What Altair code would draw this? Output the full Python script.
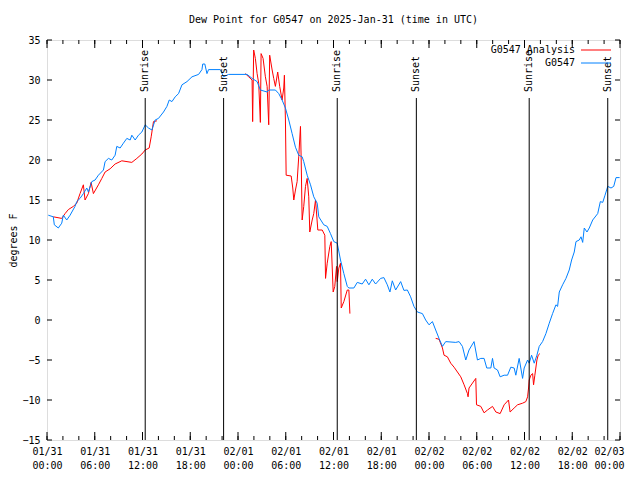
import altair as alt
import pandas as pd

# ---------------- data (hours after 2025-01-31 00:00 UTC, dew point in F) ----------------
title_text = "Dew Point for G0547 on 2025-Jan-31 (time in UTC)"
series_names = ["G0547 Analysis", "G0547"]
series_colors = ["#ff0000", "#0080ff"]

blue_hours = [0.16, 0.79, 0.92, 1.42, 1.85, 2.05, 2.48, 2.90, 3.52, 3.74, 4.15, 4.57, 5.00, 5.20, 5.63,
              6.04, 6.46, 7.09, 7.30, 7.72, 8.14, 8.56, 8.77, 9.19, 9.60, 10.03, 10.45, 10.66, 11.08,
              11.49, 11.92, 12.34, 12.75, 13.18, 13.59, 14.01, 14.64, 15.07, 15.36, 15.70, 16.11,
              16.53, 16.96, 17.59, 18.22, 19.05, 19.47, 19.57, 19.83, 20.10, 20.30, 21.78, 22.19,
              22.82, 25.14, 25.77, 26.40, 26.81, 27.66, 27.86, 28.70, 29.12, 29.54, 29.96, 30.38,
              30.80, 31.22, 31.63, 32.06, 32.26, 32.69, 33.11, 33.52, 33.95, 34.15, 34.78, 35.21,
              35.62, 36.04, 36.47, 36.88, 37.30, 37.73, 37.93, 38.56, 38.99, 39.61, 40.03, 40.45,
              40.87, 41.29, 41.92, 42.33, 42.76, 43.09, 43.39, 43.81, 44.44, 44.85, 45.28, 45.69,
              46.11, 46.54, 47.17, 47.58, 48.00, 48.43, 48.84, 49.26, 49.69, 50.10, 51.36, 51.78,
              52.20, 52.62, 53.03, 53.66, 54.09, 54.51, 54.92, 55.26, 55.77, 55.98, 56.18, 56.61,
              56.94, 57.44, 57.87, 58.28, 58.70, 58.91, 59.33, 59.76, 59.96, 60.39, 60.59, 60.89,
              61.22, 61.56, 61.85, 62.27, 62.69, 63.11, 63.53, 63.95, 64.16, 64.37, 64.79, 65.21,
              65.62, 65.92, 66.25, 66.47, 66.88, 67.10, 67.31, 67.51, 67.85, 68.14, 68.57, 69.20,
              69.53, 69.83, 70.12, 70.46, 70.87, 71.21, 71.50, 71.95]
blue_dewpoint = [13.1, 12.9, 11.9, 11.5, 12.1, 13.1, 12.5, 13.1, 14.2, 14.8, 15.2, 15.8, 16.5, 16.0, 17.3,
                 17.5, 18.1, 18.75, 19.8, 20.2, 20.0, 20.6, 21.7, 21.5, 22.1, 22.7, 22.5, 23.1, 22.5,
                 23.1, 23.5, 24.4, 24.0, 23.75, 25.0, 25.2, 26.0, 26.7, 27.5, 27.3, 27.9,
                 28.3, 29.4, 29.8, 30.4, 30.7, 31.3, 32.0, 32.0, 30.8, 31.3, 31.3, 30.4,
                 30.7, 30.7, 30.2, 29.8, 28.75, 28.5, 28.75, 28.75, 28.3, 27.5, 26.5, 25.0,
                 23.3, 21.6, 20.6, 20.4, 19.8, 18.1, 16.9, 15.4, 14.6, 12.9, 11.9, 11.7,
                 10.8, 9.8, 9.6, 7.5, 5.8, 4.2, 4.0, 4.0, 4.7, 4.5, 5.1, 4.4,
                 5.1, 4.5, 5.2, 5.3, 4.4, 3.5, 4.9, 3.75, 4.8, 3.7, 3.75, 2.9,
                 1.7, 1.0, 0.8, 0.0, -0.6, -0.2, -1.25, -2.3, -3.3, -2.7, -2.8, -2.7,
                 -3.3, -5.0, -3.75, -2.7, -5.0, -4.8, -4.8, -6.0, -6.0, -4.8, -6.0, -6.25,
                 -7.1, -6.9, -6.9, -5.9, -6.0, -6.9, -4.8, -7.3, -6.0, -5.0, -5.4, -4.4,
                 -5.4, -4.4, -3.3, -2.7, -1.7, -0.4, 0.8, 1.9, 1.7, 3.5, 4.4, 5.2,
                 6.25, 7.5, 8.5, 9.8, 10.0, 10.4, 9.7, 11.5, 11.0, 11.5, 12.5, 13.3,
                 14.8, 14.7, 15.6, 16.7, 16.5, 16.7, 17.8, 17.8]

# analysis series, three separate pieces
red1_hours = [0.79, 1.85, 2.27, 2.68, 3.31, 3.74, 4.15, 4.57, 4.78, 5.20, 5.54, 5.83, 6.46, 6.89,
              7.30, 7.93, 8.56, 9.40, 10.66, 11.29, 11.92, 12.34, 12.84, 13.09, 13.38, 13.81]
red1_dewpoint = [12.9, 12.7, 13.3, 13.8, 14.2, 14.6, 15.8, 16.9, 15.0, 15.8, 17.2, 15.8, 16.9, 17.7,
                 18.5, 18.9, 19.5, 19.9, 19.7, 20.2, 20.75, 21.25, 21.5, 22.9, 24.8, 24.9]

red2_hours = [24.92, 25.34, 25.77, 25.84, 25.97, 26.18, 26.40, 26.60, 26.81, 26.90, 27.15, 27.44,
              27.66, 27.86, 27.98, 28.29, 28.49, 28.70, 28.99, 29.24, 29.54, 29.75, 29.83, 29.96,
              30.05, 30.68, 30.88, 31.01, 31.22, 31.43, 31.63, 31.85, 31.94, 32.06, 32.26, 32.48,
              32.69, 32.89, 33.02, 33.32, 33.52, 33.74, 33.86, 34.03, 34.58, 34.91, 35.00, 35.21,
              35.54, 35.71, 35.96, 36.16, 36.38, 36.47, 36.67, 36.88, 36.97, 37.30, 37.73, 37.93,
              38.06]
red2_dewpoint = [30.8, 30.4, 30.0, 24.8, 33.75, 32.7, 30.8, 29.6, 24.7, 33.3, 32.7, 30.4,
                 29.2, 24.4, 33.1, 31.25, 30.2, 29.2, 31.0, 29.2, 27.5, 29.0, 30.6, 25.0,
                 18.1, 18.0, 16.5, 15.0, 16.25, 17.3, 20.4, 24.2, 20.0, 12.5, 14.2, 16.7,
                 17.7, 15.4, 11.0, 12.5, 13.3, 15.0, 13.5, 11.25, 11.25, 10.6, 5.2, 7.1,
                 9.2, 9.8, 3.5, 4.2, 6.7, 4.8, 6.5, 7.1, 1.5, 2.3, 3.75, 3.75,
                 0.8]

red3_hours = [48.84, 49.26, 49.69, 49.89, 50.31, 50.73, 51.15, 51.57, 51.99, 52.41, 52.83, 52.91,
              53.03, 53.88, 53.97, 54.51, 54.92, 55.35, 55.98, 56.40, 56.94, 57.44, 57.99, 58.19,
              58.70, 59.13, 59.76, 60.17, 60.39, 60.51, 60.59, 60.80, 61.02, 61.14, 61.30, 61.56,
              61.72, 61.93]
red3_dewpoint = [-2.3, -2.4, -3.5, -4.4, -4.6, -5.4, -5.9, -6.5, -7.1, -8.1, -9.2, -9.6,
                 -8.5, -7.3, -10.6, -10.8, -11.6, -11.25, -10.8, -11.5, -11.7, -10.6, -10.0, -11.5,
                 -11.0, -10.6, -10.4, -10.2, -9.6, -8.5, -7.5, -6.9, -6.7, -8.1, -6.9, -5.0,
                 -4.4, -4.2]

event_names = ["Sunrise", "Sunset", "Sunrise", "Sunset", "Sunrise", "Sunset"]
event_hours = [12.34, 22.19, 36.47, 46.41, 60.59, 70.46]

y_ticks = [-15, -10, -5, 0, 5, 10, 15, 20, 25, 30, 35]

# ---------------- build tables ----------------
t0 = pd.Timestamp("2025-01-31T00:00:00", tz="UTC")
t_end = pd.Timestamp("2025-02-03T00:00:00", tz="UTC")


def to_ms(hours):
    return [int((t0 + pd.Timedelta(hours=h)).timestamp() * 1000) for h in hours]


assert len(blue_hours) == len(blue_dewpoint)
assert len(red1_hours) == len(red1_dewpoint)
assert len(red2_hours) == len(red2_dewpoint)
assert len(red3_hours) == len(red3_dewpoint)

frames = []
for seg, (hh, vv) in enumerate([(red1_hours, red1_dewpoint), (red2_hours, red2_dewpoint),
                                 (red3_hours, red3_dewpoint)]):
    frames.append(pd.DataFrame({"time": to_ms(hh), "dew": vv, "series": series_names[0],
                                "seg": f"a{seg}"}))
frames.append(pd.DataFrame({"time": to_ms(blue_hours), "dew": blue_dewpoint,
                            "series": series_names[1], "seg": "b0"}))
lines_df = pd.concat(frames, ignore_index=True)

events_df = pd.DataFrame({"time": to_ms(event_hours), "name": event_names})

major_df = pd.DataFrame({"time": [int(t.timestamp() * 1000) for t in
                                  pd.date_range(t0, t_end, freq="6h")]})
minor_df = pd.DataFrame({"time": [int(t.timestamp() * 1000) for t in
                                  pd.date_range(t0, t_end, freq="2h")]})
ytick_df = pd.DataFrame({"dew": y_ticks})
one_row = pd.DataFrame({"k": [0]})

W, H = 573, 400
FONT = "DejaVu Sans Mono"
x_domain = [int(t0.timestamp() * 1000), int(t_end.timestamp() * 1000)]
last_ms = x_domain[1]

x_scale = alt.Scale(type="utc", domain=x_domain, nice=False)
y_scale = alt.Scale(domain=[-15, 35], nice=False, zero=False)

x_axis = alt.Axis(values=major_df["time"].tolist(), labelExpr=
                  "[utcFormat(datum.value, '%m/%d'), utcFormat(datum.value, '%H:%M')]",
                  tickSize=0, domain=False, grid=False, labelFont=FONT, labelFontSize=10,
                  labelColor="black", labelPadding=6, labelLineHeight=14,
                  labelBaseline="top", labelFlush=False, labelOverlap=False, title=None,
                  labelOffset={"condition": {"test": f"datum.value >= {last_ms}", "value": -11},
                               "value": 0})
y_axis = alt.Axis(values=y_ticks, tickSize=0, domain=False, grid=False, labelFont=FONT,
                  labelFontSize=10, labelColor="black", labelPadding=7, labelOverlap=False,
                  labelFlush=False, labelBound=False, title="degrees F",
                  titleFont=FONT, titleFontSize=10, titleFontWeight="normal", titleColor="black",
                  titleAngle=270, titleX=-34, titleY=200, titleAlign="center",
                  titleBaseline="middle")


def X():
    return alt.X("time:T", scale=x_scale, axis=x_axis)


def Y():
    return alt.Y("dew:Q", scale=y_scale, axis=y_axis)


base_lines = alt.Chart(lines_df).mark_line(strokeWidth=1, clip=True).encode(
    x=X(), y=Y(),
    color=alt.Color("series:N", scale=alt.Scale(domain=series_names, range=series_colors),
                    legend=None),
    detail="seg:N",
    order=alt.Order("time:T"),
)

ev_rules = alt.Chart(events_df).mark_rule(color="black", strokeWidth=1).encode(
    x=X(), y=alt.value(58), y2=alt.value(H))
ev_text = alt.Chart(events_df).mark_text(angle=270, align="left", baseline="middle",
                                         font=FONT, fontSize=10, color="black").encode(
    x=X(), y=alt.value(52), text="name:N")

tick_layers = []
for df, length in [(major_df, 8), (minor_df, 4)]:
    tick_layers.append(alt.Chart(df).mark_rule(color="black", strokeWidth=1).encode(
        x=X(), y=alt.value(H), y2=alt.value(H - length)))
    tick_layers.append(alt.Chart(df).mark_rule(color="black", strokeWidth=1).encode(
        x=X(), y=alt.value(0), y2=alt.value(length)))
tick_layers.append(alt.Chart(ytick_df).mark_rule(color="black", strokeWidth=1).encode(
    y=Y(), x=alt.value(0), x2=alt.value(5)))
tick_layers.append(alt.Chart(ytick_df).mark_rule(color="black", strokeWidth=1).encode(
    y=Y(), x=alt.value(W), x2=alt.value(W - 5)))

legend_layers = []
for i, (name, col) in enumerate(zip(series_names, series_colors)):
    yy = 10 + 13 * i
    legend_layers.append(alt.Chart(one_row).mark_text(
        align="right", baseline="middle", font=FONT, fontSize=10, color="black").encode(
        x=alt.value(528), y=alt.value(yy), text=alt.value(name)))
    legend_layers.append(alt.Chart(one_row).mark_rule(color=col, strokeWidth=1).encode(
        x=alt.value(534), x2=alt.value(564), y=alt.value(yy)))

title_layer = alt.Chart(one_row).mark_text(
    align="center", baseline="alphabetic", font=FONT, fontSize=10, color="black").encode(
    x=alt.value(W / 2), y=alt.value(-17), text=alt.value(title_text))

chart = alt.layer(
    base_lines, ev_rules, ev_text, *tick_layers, *legend_layers, title_layer
).properties(
    width=W, height=H,
    autosize=alt.AutoSizeParams(type="none"),
    padding={"left": 39, "top": 32, "right": 12, "bottom": 32},
).configure_view(
    stroke="black", strokeWidth=1
).configure(background="white")

chart.save("out.html", embed_options={"renderer": "svg", "actions": False})
